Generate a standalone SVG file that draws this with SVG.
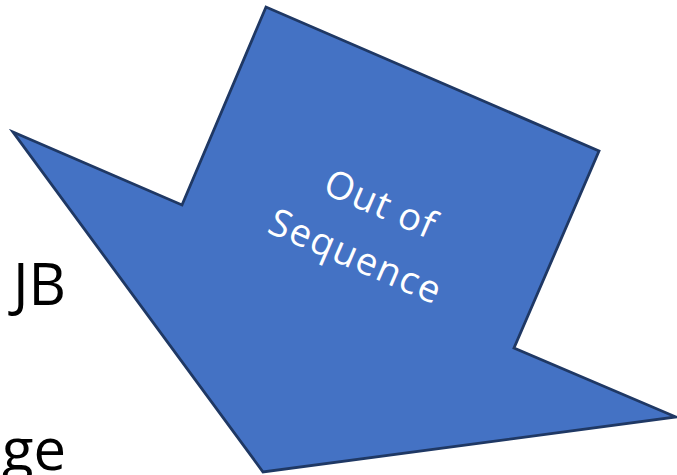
<svg xmlns="http://www.w3.org/2000/svg" width="677" height="475" viewBox="0 0 677 475">
<style>
.big{font-family:"Open Sans","Liberation Sans",sans-serif;font-size:58px;fill:#000;text-anchor:end}
.lbl{font-family:"Open Sans","Liberation Sans",sans-serif;font-size:38px;fill:#fff;text-anchor:middle;dominant-baseline:central}
.arrow{fill:#4472C4;stroke:#1F3864;stroke-width:2.8;stroke-linejoin:miter}
</style>
<rect width="677" height="475" fill="#fff"/>
<text class="big" x="66" y="305">JB</text>
<text class="big" x="66" y="470">ge</text>
<g id="arrow">
<polygon class="arrow" points="13,132 182,205 266,7 599,151 514,348 676,417 263,472"/>
<g transform="translate(368,228) rotate(23.4)">
<text class="lbl" x="2" y="-29" letter-spacing="1">Out of</text>
<text class="lbl" x="0" y="29" letter-spacing="1.5">Sequence</text>
</g>
</g>
</svg>
